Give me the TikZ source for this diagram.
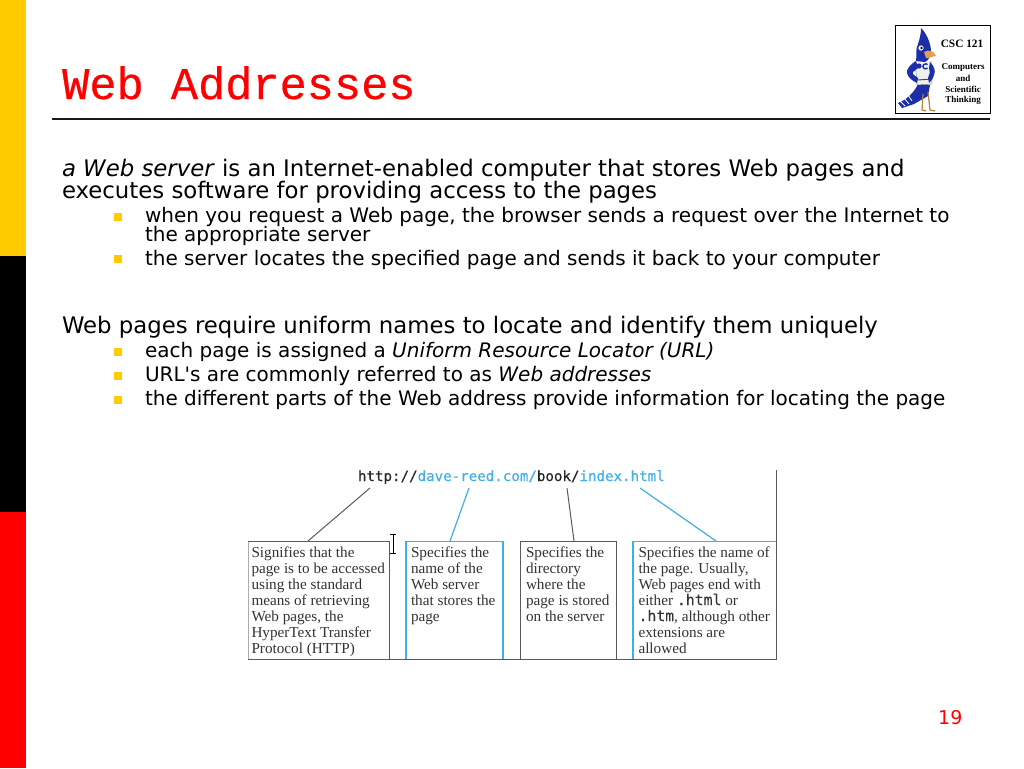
\documentclass[tikz,border=0pt]{standalone}
\usepackage{fontspec}
\setmainfont{DejaVu Sans}
\newfontfamily\aposfont{DejaVu Sans}
\newfontfamily\titlefont[FakeBold=0.5]{Liberation Mono}
\newfontfamily\urlfont[FakeBold=0.2]{DejaVu Sans Mono}
\newfontfamily\capfont{Liberation Serif}
\definecolor{slideyellow}{HTML}{FFCC00}
\definecolor{slidered}{HTML}{FF0000}
\definecolor{urlblue}{HTML}{3FB0E2}
\definecolor{boxgray}{HTML}{5A5A5A}
\definecolor{jayblue}{HTML}{1C2FA8}
\definecolor{beak}{HTML}{E0A050}
\tikzset{
  x=1pt,y=-1pt,
  bodytext/.style={anchor=base west,inner sep=0pt,outer sep=0pt,font=\fontsize{22.8}{26}\selectfont},
  subtext/.style={anchor=base west,inner sep=0pt,outer sep=0pt,font=\fontsize{20}{24}\selectfont},
  bulletmark/.style={fill=slideyellow,draw=none,minimum size=8pt,inner sep=0pt,outer sep=0pt},
  captext/.style={anchor=base west,inner sep=0pt,outer sep=0pt,font=\capfont\fontsize{15.2}{16}\selectfont,text=black!80},
  urlpart/.style={anchor=base west,inner sep=0pt,outer sep=0pt,font=\urlfont\fontsize{14.15}{16}\selectfont},
  graybox/.style={draw=boxgray,line width=1pt},
  bluebox/.style={draw=urlblue,line width=1.2pt},
  logotext/.style={inner sep=0pt,outer sep=0pt,font=\capfont\bfseries\fontsize{9}{10}\selectfont},
}
\newcommand{\code}[1]{{\urlfont\fontsize{14.8}{16}\selectfont #1}}
\begin{document}
\begin{tikzpicture}
\useasboundingbox (0,0) rectangle (1024,768);
\fill[white] (0,0) rectangle (1024,768);
% side bar
\fill[slideyellow] (0,0) rectangle (26,256);
\fill[black] (0,256) rectangle (26,512);
\fill[slidered] (0,512) rectangle (26,768);
% title
\node[anchor=base west,inner sep=0pt,text=slidered,font=\titlefont\fontsize{45.3}{50}\selectfont] (title) at (62,99) {Web Addresses};
\coordinate (ruleL) at (52,119);
\coordinate (ruleR) at (990,119);
\draw[line width=1.8pt,black!90] (ruleL) -- (ruleR);
% logo
\node[draw=black,line width=0.8pt,fill=white,minimum width=95pt,minimum height=88pt,inner sep=0pt,anchor=north west] (logo) at (895,25) {};
\node[logotext,font=\capfont\bfseries\fontsize{11.3}{12}\selectfont] (lg1) at (962,44) {CSC 121};
\node[logotext] (lg2) at (963,67) {Computers};
\node[logotext] (lg3) at (963,78) {and};
\node[logotext] (lg4) at (963,89) {Scientific};
\node[logotext] (lg5) at (963,100) {Thinking};
% jay: tail
\fill[jayblue] (918,84) -- (930,85) -- (928,96) -- (914,104) -- (902,108) -- (898,103) .. controls (906,100) and (914,93) .. cycle;
\draw[white,line width=0.8pt] (900,101) -- (905,106) (904,98) -- (909,104) (908,95) -- (912,101);
% legs
\draw[beak!80!black,line width=1.2pt] (923,94) -- (922,110) -- (926,111);
\draw[beak!80!black,line width=1.2pt] (928,92) -- (930,110) -- (935,111);
% torso
\fill[white!94!black] (915,61) -- (931,61) -- (932,84) -- (917,85) -- cycle;
\draw[black!60,line width=0.4pt] (915,61) -- (917,85) -- (932,84) -- (931,61);
\draw[black!70,line width=1pt] (917,80) -- (932,79);
% arms
\fill[jayblue] (916,61) .. controls (911,64) and (906,69) .. (907,73) .. controls (908,78) and (913,81) .. (917,83) -- (918,78) .. controls (915,76) and (912,74) .. (913,72) -- (918,68) -- cycle;
\fill[jayblue] (930,62) .. controls (934,66) and (936,71) .. (934,75) .. controls (933,79) and (931,81) .. (929,83) -- (928,78) .. controls (930,75) and (930,72) .. (929,68) -- cycle;
\fill[jayblue] (919,66) circle (2.6);
\draw[jayblue,line width=1.4pt] (927.5,68) arc (40:320:2.6);
% head
\fill[jayblue] (921,28) .. controls (926,33) and (930,41) .. (931,50) .. controls (931,56) and (929,60) .. (925,62) -- (916,61) .. controls (917,56) and (915,50) .. (918,44) .. controls (920,38) and (921,33) .. (921,28) -- cycle;
\fill[white] (921,48) circle (2.6);
\fill[black] (921.5,48) circle (1.3);
\fill[beak] (924,52) .. controls (929,49) and (934,51) .. (936,56) .. controls (932,56) and (930,59) .. (926,58) -- cycle;
% body text
\node[bodytext] (p1a) at (62,176) {\textit{a Web server} is an Internet-enabled computer that stores Web pages and};
\node[bodytext] (p1b) at (62,198) {executes software for providing access to the pages};
\node[subtext] (s1a) at (145,222) {when you request a Web page, the browser sends a request over the Internet to};
\node[subtext] (s1b) at (145,241) {the appropriate server};
\node[subtext] (s2) at (145,265) {the server locates the specified page and sends it back to your computer};
\node[bodytext] (p2) at (62,333) {Web pages require uniform names to locate and identify them uniquely};
\node[subtext] (s3) at (145,357) {each page is assigned a \textit{Uniform Resource Locator (URL)}};
\node[subtext] (s4) at (145,381) {URL{\aposfont'}s are commonly referred to as \textit{Web addresses}};
\node[subtext] (s5) at (145,405) {the different parts of the Web address provide information for locating the page};
\node[bulletmark] (b1) at (118,217) {};
\node[bulletmark] (b2) at (118,259) {};
\node[bulletmark] (b3) at (118,352) {};
\node[bulletmark] (b4) at (118,376) {};
\node[bulletmark] (b5) at (118,400) {};
% url
\node[urlpart,text=black!85] (u1) at (358,481) {http://};
\node[urlpart,text=urlblue,anchor=base west] (u2) at (u1.base east) {dave-reed.com/};
\node[urlpart,text=black!85,anchor=base west] (u3) at (u2.base east) {book/};
\node[urlpart,text=urlblue,anchor=base west] (u4) at (u3.base east) {index.html};
% boxes
\coordinate (frameBL) at (248,659);
\coordinate (frameBR) at (776,659);
\coordinate (frameTR) at (776,470);
\draw[bluebox] (406,659) -- (406,541.5) -- (503,541.5) -- (503,659);
\draw[bluebox] (633,659) -- (633,541.5) -- (776,541.5);
\draw[draw=boxgray!50,line width=0.7pt] (248,659) -- (248,541.5);
\draw[graybox] (248,541.5) -- (389,541.5) -- (389,659);
\draw[graybox] (520,659) -- (520,541.5) -- (616,541.5) -- (616,659);
\draw[graybox] (frameBL) -- (frameBR) -- (frameTR);
% connectors
\coordinate (c1) at (308,541); \coordinate (c2) at (450,541);
\coordinate (c3) at (574,541); \coordinate (c4) at (716,541);
\coordinate (t1) at (370,488); \coordinate (t2) at (469,488);
\coordinate (t3) at (567,488); \coordinate (t4) at (640,488);
\draw[graybox] (t1) -- (c1);
\draw[bluebox] (t2) -- (c2);
\draw[graybox] (t3) -- (c3);
\draw[bluebox] (t4) -- (c4);
% I-beam cursor
\coordinate (ib1) at (393,534); \coordinate (ib2) at (393,553);
\draw[black,line width=0.9pt] (ib1) -- (ib2);
\draw[black,line width=0.7pt] (390,534) -- (396,534) (390,553) -- (396,553);
% captions
\node[captext] (a1) at (251.5,557) {Signifies that the};
\node[captext] (a2) at (251.5,573) {page is to be accessed};
\node[captext] (a3) at (251.5,589) {using the standard};
\node[captext] (a4) at (251.5,605) {means of retrieving};
\node[captext] (a5) at (251.5,621) {Web pages, the};
\node[captext] (a6) at (251.5,637) {HyperText Transfer};
\node[captext] (a7) at (251.5,653) {Protocol (HTTP)};
\node[captext] (d1) at (411,557) {Specifies the};
\node[captext] (d2) at (411,573) {name of the};
\node[captext] (d3) at (411,589) {Web server};
\node[captext] (d4) at (411,605) {that stores the};
\node[captext] (d5) at (411,621) {page};
\node[captext] (e1) at (526,557) {Specifies the};
\node[captext] (e2) at (526,573) {directory};
\node[captext] (e3) at (526,589) {where the};
\node[captext] (e4) at (526,605) {page is stored};
\node[captext] (e5) at (526,621) {on the server};
\node[captext] (f1) at (638.5,557) {Specifies the name of};
\node[captext] (f2) at (638.5,573) {the page. Usually,};
\node[captext] (f3) at (638.5,589) {Web pages end with};
\node[captext] (f4) at (638.5,605) {either \code{.html} or};
\node[captext] (f5) at (638.5,621) {\code{.htm}, although other};
\node[captext] (f6) at (638.5,637) {extensions are};
\node[captext] (f7) at (638.5,653) {allowed};
% page number
\node[anchor=base west,inner sep=0pt,text=slidered,font=\fontsize{19}{22}\selectfont] (pg) at (938,724) {19};
\end{tikzpicture}
\end{document}
